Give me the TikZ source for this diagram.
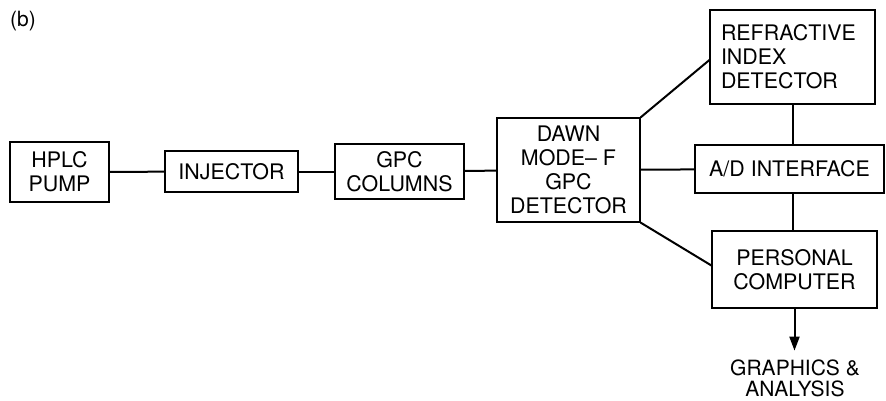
\documentclass[tikz,border=0pt]{standalone}
\usepackage{fontspec}
\setmainfont{TeX Gyre Heros}
\usetikzlibrary{arrows.meta,calc}
\begin{document}
\begin{tikzpicture}[x=1pt,y=-1pt,
  blk/.style={draw,line width=1.2pt,inner sep=0pt,align=center,
    font=\fontsize{21.4}{24}\selectfont},
  conn/.style={line width=2pt},
  lbl/.style={inner sep=0pt,align=center,font=\fontsize{21}{21}\selectfont}]
\useasboundingbox (0,0) rectangle (886,400);
\node[inner sep=0pt,font=\fontsize{21}{24}\selectfont] (tag) at (23,21) {(b)};
\node[blk,minimum width=99pt,minimum height=60pt] (pump) at (59.5,172) {HPLC\\PUMP};
\node[blk,minimum width=133pt,minimum height=41pt] (inj) at (231.5,171.5) {INJECTOR};
\node[blk,minimum width=129pt,minimum height=55pt] (gpc) at (399.5,171.5) {GPC\\COLUMNS};
\node[blk,minimum width=143pt,minimum height=104pt] (dawn) at (568.5,170) {DAWN\\MODE-- F\\GPC\\DETECTOR};
\node[blk,minimum width=165pt,minimum height=94pt,align=left,text width=143pt] (ri) at (792.5,57) {REFRACTIVE\\INDEX\\DETECTOR};
\node[blk,minimum width=189pt,minimum height=48pt] (ad) at (789.5,169) {A/D INTERFACE};
\node[blk,minimum width=165pt,minimum height=77pt] (pc) at (794.5,269.5) {PERSONAL\\COMPUTER};
\node[lbl] (gra) at (795,378) {GRAPHICS \&\\ANALYSIS};
\draw[conn] (pump) -- (inj);
\draw[conn] (inj) -- (gpc);
\draw[conn] (gpc) -- (dawn);
\draw[conn] (dawn) -- (ad);
\draw[conn] (dawn.north east) -- ([yshift=-3pt]ri.west);
\draw[conn] (dawn.south east) -- ([yshift=4pt]pc.west);
\draw[conn] (ri.south) -- (ri.south |- ad.north);
\draw[conn] (ri.south |- ad.south) -- (ri.south |- pc.north);
\draw[conn,-{Triangle[length=14pt,width=10pt]}] (pc.south) -- ++(0,42);
\end{tikzpicture}
\end{document}
